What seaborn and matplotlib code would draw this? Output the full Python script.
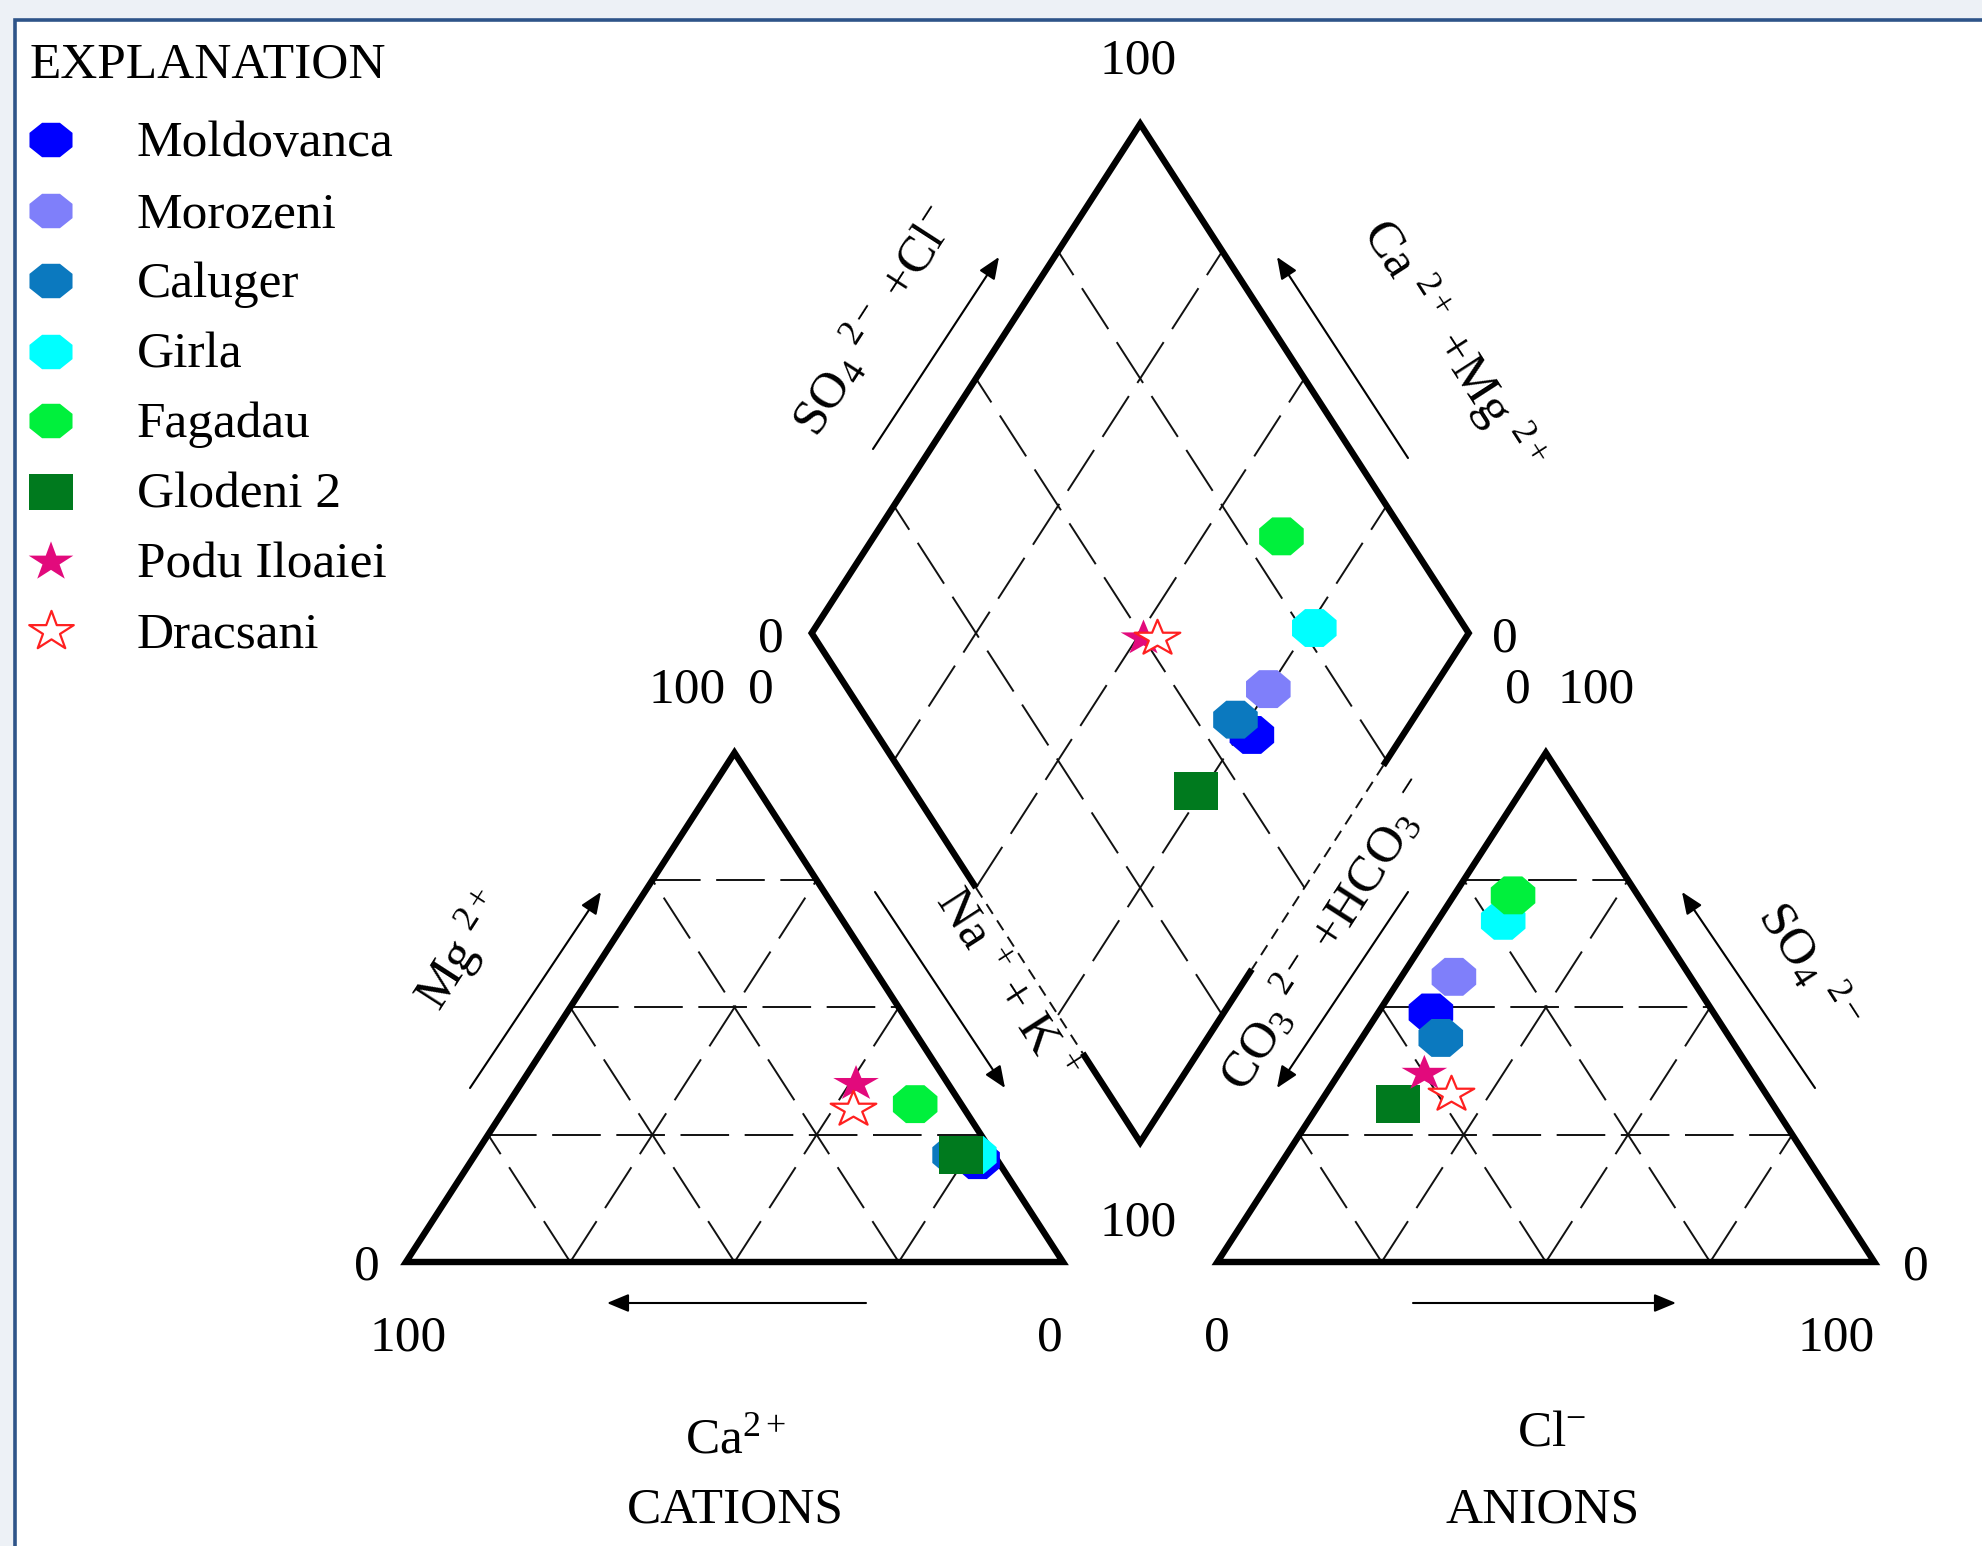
import numpy as np
import pandas as pd
import matplotlib
matplotlib.use("Agg")
import matplotlib.pyplot as plt
from matplotlib.path import Path
from matplotlib.patches import Rectangle, Polygon
import seaborn as sns

# ---------------- data (percent of meq/L) ----------------
samples = ["Moldovanca", "Morozeni", "Caluger", "Girla", "Fagadau",
           "Glodeni 2", "Podu Iloaiei", "Dracsani"]
ca_pct   = [3, 4, 6, 3, 7, 5, 14, 17]
mg_pct   = [20, 21, 21, 21, 31, 21, 35, 30]
nak_pct  = [77, 75, 73, 76, 62, 74, 51, 53]
hco3_pct = [43, 36, 44, 23, 19, 57, 50, 48]
so4_pct  = [49, 56, 44, 67, 72, 31, 37, 33]
cl_pct   = [8, 8, 12, 10, 9, 12, 13, 19]
colors = ["#0000FF", "#7F7FFA", "#0B79BF", "#00FFFF", "#00F03C",
          "#007A1E", "#E20A7C", "#FF2020"]
marker_kind = ["circle", "circle", "circle", "circle", "circle",
               "square", "star", "open_star"]
legend_title = "EXPLANATION"
tick_text = ["100", "0", "0", "100", "0", "0", "100", "100",
             "0", "100", "0", "0", "100", "0"]

# ---------------- style ----------------
sns.set_theme(style="white")
plt.rcParams["font.family"] = ["Liberation Serif", "DejaVu Serif"]
plt.rcParams["text.color"] = "black"
plt.rcParams["mathtext.fontset"] = "custom"
plt.rcParams["mathtext.rm"] = "Liberation Serif"
plt.rcParams["mathtext.it"] = "Liberation Serif:italic"
plt.rcParams["mathtext.bf"] = "Liberation Serif:bold"
FS = 37

# ---------------- geometry ----------------
GAP = 23.5
H = 100 * np.sqrt(3) / 2
SX, SY = 6.57, 5.88          # pixels per unit
X0, Y0 = 406, 1262           # pixel position of the origin
WPX, HPX = 1983, 1546


def P(xp, yp):
    return ((xp - X0) / SX, (Y0 - yp) / SY)


df = pd.DataFrame({"sample": samples, "Ca": ca_pct, "Mg": mg_pct, "NaK": nak_pct,
                   "HCO3": hco3_pct, "SO4": so4_pct, "Cl": cl_pct,
                   "color": colors, "kind": marker_kind})
df["cat_x"] = df["NaK"] + df["Mg"] / 2
df["cat_y"] = df["Mg"] * H / 100
df["an_x"] = 100 + GAP + df["Cl"] + df["SO4"] / 2
df["an_y"] = df["SO4"] * H / 100
Bx, By = 100 + GAP / 2, GAP * np.sqrt(3) / 2
u = df["NaK"] / 100
v = df["HCO3"] / 100
df["dia_x"] = Bx + 50 * (u - v)
df["dia_y"] = By + H * (2 - u - v)


# ---------------- marker shapes ----------------
def octagon(r):
    t = np.arange(8) * np.pi / 4 + np.pi / 8
    verts = np.c_[np.cos(t), r * np.sin(t)]
    verts = np.vstack([verts, verts[:1]])
    codes = [Path.MOVETO] + [Path.LINETO] * 7 + [Path.CLOSEPOLY]
    return Path(verts, codes)


def rect(r):
    verts = [(-1, -r), (1, -r), (1, r), (-1, r), (-1, -r)]
    codes = [Path.MOVETO] + [Path.LINETO] * 3 + [Path.CLOSEPOLY]
    return Path(verts, codes)


def star(r):
    st = Path.unit_regular_star(5, 0.381966)
    vv = st.vertices.copy()
    vv[:, 1] *= r
    return Path(vv, st.codes)


MK_DATA = {"circle": octagon(0.85), "square": rect(0.87),
           "star": star(0.78), "open_star": star(0.78)}
S_DATA = {"circle": 1030, "square": 980, "star": 1080, "open_star": 1080}
MK_LEG = {"circle": octagon(0.80), "square": rect(0.82),
          "star": star(0.88), "open_star": star(0.88)}
S_LEG = {"circle": 960, "square": 960, "star": 1030, "open_star": 1030}

# ---------------- figure ----------------
fig = plt.figure(figsize=(WPX / 100, HPX / 100), dpi=100)
fig.patch.set_facecolor("#EDF1F6")

bg = fig.add_axes([0, 0, 1, 1], zorder=0)
bg.set_xlim(0, WPX)
bg.set_ylim(HPX, 0)
bg.axis("off")
bg.add_patch(Rectangle((15, 20), 2200, 1700, facecolor="white",
                       edgecolor="#2E5489", lw=2.6))

ax = fig.add_axes([0, 0, 1, 1], zorder=1)
ax.patch.set_visible(False)
ax.set_xlim((0 - X0) / SX, (WPX - X0) / SX)
ax.set_ylim((Y0 - HPX) / SY, Y0 / SY)
ax.axis("off")

grid_kw = dict(color="#111111", lw=1.4, ls=(0, (25, 8)), zorder=2)
fr = [0.25, 0.5, 0.75]


def tri_grid(ox):
    for f in fr:
        ax.plot([ox + 50 * f, ox + 100 - 50 * f], [H * f, H * f], **grid_kw)
        ax.plot([ox + 100 * f, ox + 100 * f + 50 * (1 - f)], [0, H * (1 - f)], **grid_kw)
        ax.plot([ox + 100 * f, ox + 50 * f], [0, H * f], **grid_kw)


tri_grid(0)
tri_grid(100 + GAP)

Bv = np.array([Bx, By])
avec = np.array([-50, H])
bvec = np.array([50, H])
for f in fr:
    p0 = Bv + f * avec
    p1 = p0 + bvec
    ax.plot([p0[0], p1[0]], [p0[1], p1[1]], **grid_kw)
    q0 = Bv + f * bvec
    q1 = q0 + avec
    ax.plot([q0[0], q1[0]], [q0[1], q1[1]], **grid_kw)

# outlines
out_kw = dict(fill=False, ec="black", lw=4.6, joinstyle="miter", zorder=3)
ax.add_patch(Polygon([(0, 0), (100, 0), (50, H)], closed=True, **out_kw))
ax.add_patch(Polygon([(100 + GAP, 0), (200 + GAP, 0), (150 + GAP, H)], closed=True, **out_kw))

L = Bv + avec
R = Bv + bvec
T = Bv + avec + bvec
pa = L + 0.50 * (Bv - L)
pb = L + 0.825 * (Bv - L)
qa = R + 0.26 * (Bv - R)
qb = R + 0.66 * (Bv - R)
edge_kw = dict(color="black", lw=4.6, solid_joinstyle="miter",
               solid_capstyle="butt", zorder=3)
ax.plot([pa[0], L[0], T[0], R[0], qa[0]], [pa[1], L[1], T[1], R[1], qa[1]], **edge_kw)
ax.plot([pb[0], Bv[0], qb[0]], [pb[1], Bv[1], qb[1]], **edge_kw)
thin_kw = dict(color="#111111", lw=1.4, ls=(0, (6, 4)), zorder=2)
ax.plot([pa[0], pb[0]], [pa[1], pb[1]], **thin_kw)
ax.plot([qa[0], qb[0]], [qa[1], qb[1]], **thin_kw)


# ---------------- points ----------------
def draw_points(xcol, ycol):
    for i in range(len(df)):
        row = df.iloc[i]
        kind = row["kind"]
        kw = dict(marker=MK_DATA[kind], s=S_DATA[kind], ax=ax, legend=False, zorder=6)
        if kind == "open_star":
            kw.update(facecolor="white", edgecolor=row["color"], linewidth=1.6)
        else:
            kw.update(color=row["color"], edgecolor="none", linewidth=0)
        sns.scatterplot(data=df.iloc[[i]], x=xcol, y=ycol, **kw)


draw_points("cat_x", "cat_y")
draw_points("an_x", "an_y")
draw_points("dia_x", "dia_y")

# ---------------- tick numbers ----------------
tick_pos = [(1138, 61), (771, 639), (1505, 639), (687, 690), (761, 690),
            (1518, 690), (1596, 690), (1138, 1223), (367, 1267), (408, 1338),
            (1050, 1338), (1217, 1338), (1836, 1338), (1916, 1267)]
for s_, (xp, yp) in zip(tick_text, tick_pos):
    ax.text(*P(xp, yp), s_, fontsize=FS, ha="center", va="center", zorder=7)

# ---------------- axis labels ----------------
ANG = np.degrees(np.arctan(H * SY / (50 * SX)))
rot_labels = [
    (r"SO$_4$ $^{2-}$ +Cl$^{-}$", (875, 322), ANG),
    (r"Ca $^{2+}$ +Mg $^{2+}$", (1452, 346), -ANG),
    (r"Mg $^{2+}$", (462, 951), ANG),
    (r"Na $^{+}$ + K $^{+}$", (1005, 986), -ANG),
    (r"CO$_3$ $^{2-}$ +HCO$_3$ $^{-}$", (1328, 936), ANG),
    (r"SO$_4$ $^{2-}$", (1808, 966), -ANG),
]
for s_, (xp, yp), rot in rot_labels:
    ax.text(*P(xp, yp), s_, fontsize=FS, ha="center", va="center",
            rotation=rot, rotation_mode="anchor", zorder=7)

ax.text(*P(736, 1440), r"Ca$^{2+}$", fontsize=FS, ha="center", va="center")
ax.text(*P(735, 1510), "CATIONS", fontsize=FS, ha="center", va="center")
ax.text(*P(1552, 1433), r"Cl$^{-}$", fontsize=FS, ha="center", va="center")
ax.text(*P(1543, 1510), "ANIONS", fontsize=FS, ha="center", va="center")

# ---------------- arrows ----------------
arrows = [((873, 449), (999, 257)), ((1408, 458), (1277, 257)),
          ((470, 1088), (601, 892)), ((875, 892), (1005, 1088)),
          ((866, 1303), (607, 1303)), ((1408, 892), (1277, 1088)),
          ((1815, 1088), (1682, 892)), ((1413, 1303), (1676, 1303))]
for p0, p1 in arrows:
    ax.annotate("", xy=P(*p1), xytext=P(*p0),
                arrowprops=dict(arrowstyle="-|>,head_length=0.6,head_width=0.25",
                                color="black", lw=1.5, shrinkA=0, shrinkB=0,
                                mutation_scale=22), zorder=7)

# ---------------- legend ----------------
bg.text(30, 61 + 16, legend_title, fontsize=FS, ha="left", va="baseline")
rows_y = [140, 211, 281, 352, 421, 492, 562, 631]
for i, yy in enumerate(rows_y):
    kind = marker_kind[i]
    if kind == "open_star":
        bg.scatter([51], [yy], marker=MK_LEG[kind], s=S_LEG[kind],
                   facecolor="white", edgecolor=colors[i], linewidth=1.6, zorder=5)
    else:
        bg.scatter([51], [yy], marker=MK_LEG[kind], s=S_LEG[kind],
                   color=colors[i], edgecolor="none", zorder=5)
    bg.text(137, yy + 16, samples[i], fontsize=FS, ha="left", va="baseline")

fig.savefig("out.png", dpi=100, facecolor=fig.get_facecolor())
